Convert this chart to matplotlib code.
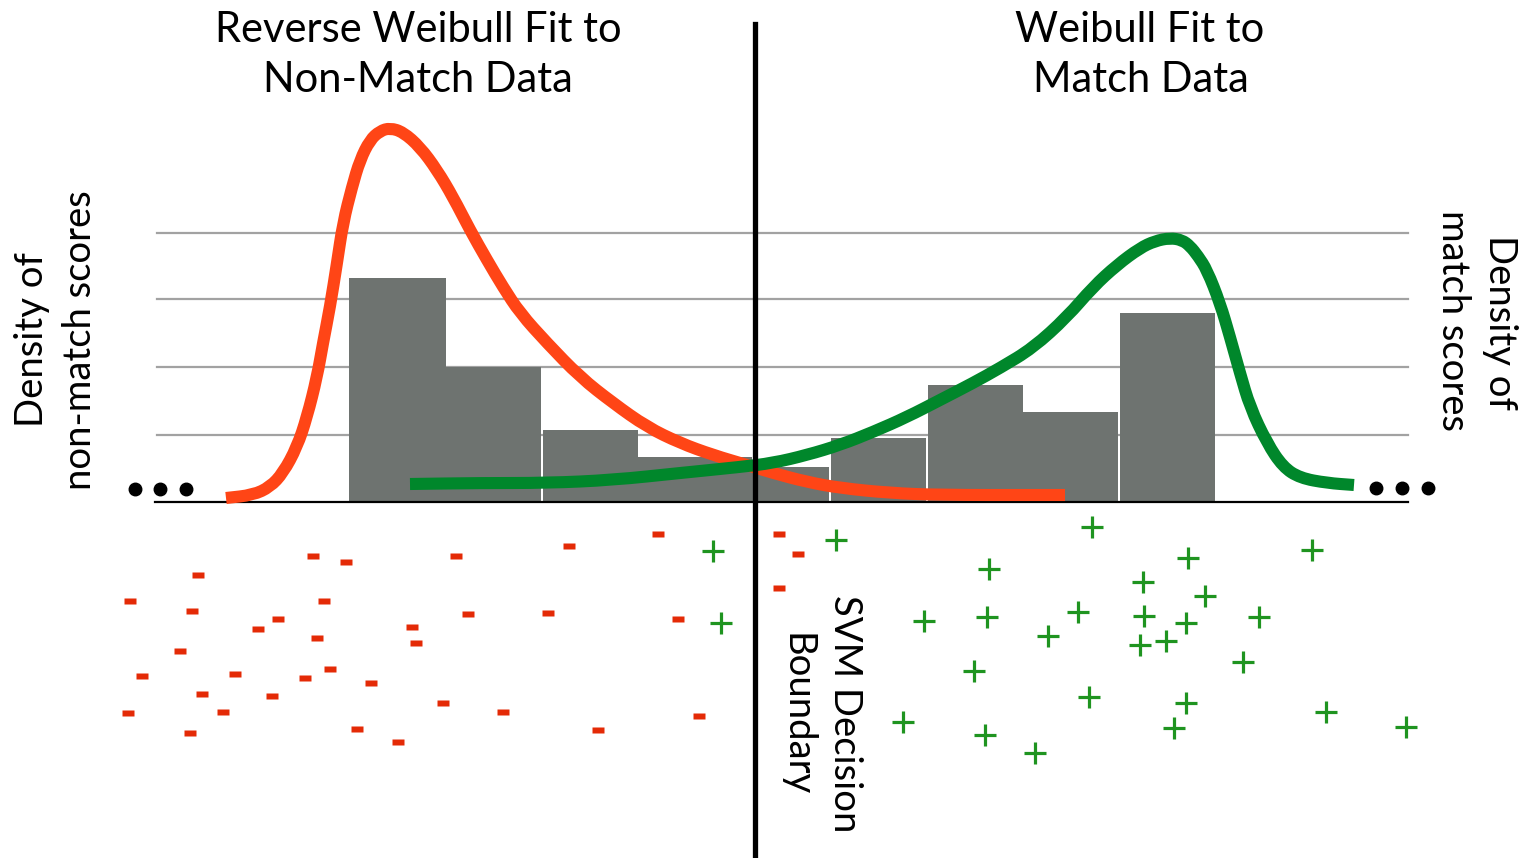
import numpy as np
import matplotlib
matplotlib.use("Agg")
import matplotlib.pyplot as plt
from matplotlib.path import Path
from matplotlib.patches import PathPatch

plt.rcParams['font.family'] = ['Lato', 'DejaVu Sans']

# canvas is laid out in pixels; y is height above the score axis (baseline y=0)
W, H = 1526, 858
BASE = 502          # pixel row of the score axis

# histogram of scores (bin left edge, right edge, height)
bin_left  = [349, 446, 543, 638, 752, 831, 928, 1023, 1120]
bin_right = [446, 541, 638, 752, 829, 926, 1023, 1118, 1215]
bin_height = [224, 135, 72, 45, 35, 64, 117, 90, 189]

grid_levels = [67, 135, 203, 269]

# reverse Weibull fit to non-match data (x, pixel row)
red_x = [226, 253, 270, 283, 297, 307, 317, 323, 330, 337, 343, 352, 360, 370,
         380, 390, 403, 420, 437, 453, 470, 487, 503, 520, 547, 580, 613, 647,
         680, 713, 747, 773, 807, 840, 890, 940, 1040, 1065]
red_row = [498, 495, 487, 473, 447, 417, 377, 343, 307, 263, 223, 187, 160, 140,
           131, 128, 132, 147, 170, 197, 230, 260, 287, 313, 343, 377, 403, 427,
           443, 455, 465, 473, 482, 488, 493, 495, 495, 495]

# Weibull fit to match data (x, pixel row)
green_x = [410, 480, 547, 613, 680, 740, 773, 807, 840, 873, 907, 940, 973, 1000,
           1033, 1067, 1093, 1117, 1140, 1155, 1170, 1182, 1190, 1198, 1207, 1220,
           1230, 1240, 1250, 1267, 1283, 1300, 1327, 1354]
green_row = [484, 483, 483, 480, 473, 467, 463, 455, 445, 432, 417, 400, 383, 368,
             348, 317, 287, 265, 248, 241, 238, 240, 246, 256, 270, 303,
             337, 373, 407, 443, 467, 478, 483, 485]

# non-match samples shown below the axis
neg_x = [130, 198, 192, 180, 142, 128, 190, 202, 223, 258, 278, 235, 272, 305, 330,
         317, 324, 313, 346, 357, 398, 371, 412, 416, 443, 456, 468, 503, 548, 569,
         598, 658, 678, 699, 779, 798, 779]
neg_row = [601, 575, 611, 651, 676, 713, 733, 694, 712, 629, 619, 674, 696, 678, 669,
           638, 601, 556, 562, 729, 742, 683, 627, 643, 703, 556, 614, 712, 613, 546,
           730, 534, 619, 716, 534, 554, 588]

# match samples
pos_x = [713, 721, 836, 1092, 1188, 1312, 989, 1143, 1205, 924, 987, 1078, 1144, 1186,
         1259, 1048, 1140, 1166, 1243, 974, 1089, 1186, 1326, 1406, 903, 985, 1035, 1174]
pos_row = [551, 623, 540, 527, 558, 550, 569, 582, 596, 621, 617, 612, 616, 623,
           617, 636, 645, 641, 662, 671, 697, 703, 712, 727, 722, 735, 753, 728]

dots_left_x = [135, 160, 186]
dots_right_x = [1376, 1402, 1428]

BAR_COLOR = '#6e7370'
RED = '#ff4516'
GREEN = '#00872b'
MINUS_RED = '#e42a06'
PLUS_GREEN = '#1f9420'


def row(py):
    # pixel row -> height above the score axis
    return BASE - np.asarray(py, dtype=float)


def smooth_path(xs, ys):
    # quadratic bezier through the midpoints, using the points as controls
    pts = np.column_stack([xs, ys])
    verts = [pts[0], (pts[0] + pts[1]) / 2]
    codes = [Path.MOVETO, Path.LINETO]
    for i in range(1, len(pts) - 1):
        verts += [pts[i], (pts[i] + pts[i + 1]) / 2]
        codes += [Path.CURVE3, Path.CURVE3]
    verts.append(pts[-1])
    codes.append(Path.LINETO)
    return Path(verts, codes)


fig = plt.figure(figsize=(W / 100, H / 100), dpi=100)
ax = fig.add_axes([0, 0, 1, 1])
ax.set_xlim(0, W)
ax.set_ylim(BASE - H, BASE)
ax.axis('off')

# horizontal guide lines
for g in grid_levels:
    ax.plot([157, 1408], [g, g], color='#a2a2a2', lw=1.6, zorder=1)

# histogram bars
widths = [r - l for l, r in zip(bin_left, bin_right)]
ax.bar(bin_left, bin_height, width=widths, align='edge', color=BAR_COLOR,
       linewidth=0, zorder=2)

# score axis
ax.plot([155, 1408], [0, 0], color='black', lw=1.6, zorder=3)

# fitted curves
ax.add_patch(PathPatch(smooth_path(red_x, row(red_row)), fill=False, edgecolor=RED,
                       lw=8.7, capstyle='butt', joinstyle='round', zorder=4))
ax.add_patch(PathPatch(smooth_path(green_x, row(green_row)), fill=False, edgecolor=GREEN,
                       lw=8.7, capstyle='butt', joinstyle='round', zorder=5))

# SVM decision boundary
ax.plot([755, 755], [row(24), row(H)], color='black', lw=3.8, zorder=6)

# ellipsis on both ends of the axis
ax.plot(dots_left_x, [13] * 3, 'o', color='black', ms=9, zorder=6)
ax.plot(dots_right_x, [14] * 3, 'o', color='black', ms=9, zorder=6)

# sample markers
minus = Path([(-1, -0.5), (1, -0.5), (1, 0.5), (-1, 0.5), (-1, -0.5)],
             [Path.MOVETO, Path.LINETO, Path.LINETO, Path.LINETO, Path.CLOSEPOLY])
ax.plot(neg_x, row(neg_row), linestyle='none', marker=minus, ms=8.3,
        color=MINUS_RED, mec='none', zorder=6)
ax.plot(pos_x, row(pos_row), linestyle='none', marker='+', ms=16, mew=2.3,
        color=PLUS_GREEN, zorder=6)

# titles
tfs = 30
ax.text(418, row(30), 'Reverse Weibull Fit to', fontsize=tfs, ha='center', va='center')
ax.text(418, row(80), 'Non-Match Data', fontsize=tfs, ha='center', va='center')
ax.text(1140, row(30), 'Weibull Fit to', fontsize=tfs, ha='center', va='center')
ax.text(1141, row(80), 'Match Data', fontsize=tfs, ha='center', va='center')

# density labels
fs = 27.5
ax.text(32, row(340), 'Density of', fontsize=fs, rotation=90, ha='center', va='center')
ax.text(80, row(340), 'non-match scores', fontsize=fs, rotation=90, ha='center', va='center')
ax.text(1500, row(322), 'Density of', fontsize=fs, rotation=270, ha='center', va='center')
ax.text(1453, row(320), 'match scores', fontsize=fs, rotation=270, ha='center', va='center')

# boundary label
ax.text(845, row(714), 'SVM Decision', fontsize=fs, rotation=270, ha='center', va='center')
ax.text(797, row(715), 'Boundary', fontsize=fs, rotation=270, ha='center', va='center')

fig.savefig('out.png', dpi=100)
